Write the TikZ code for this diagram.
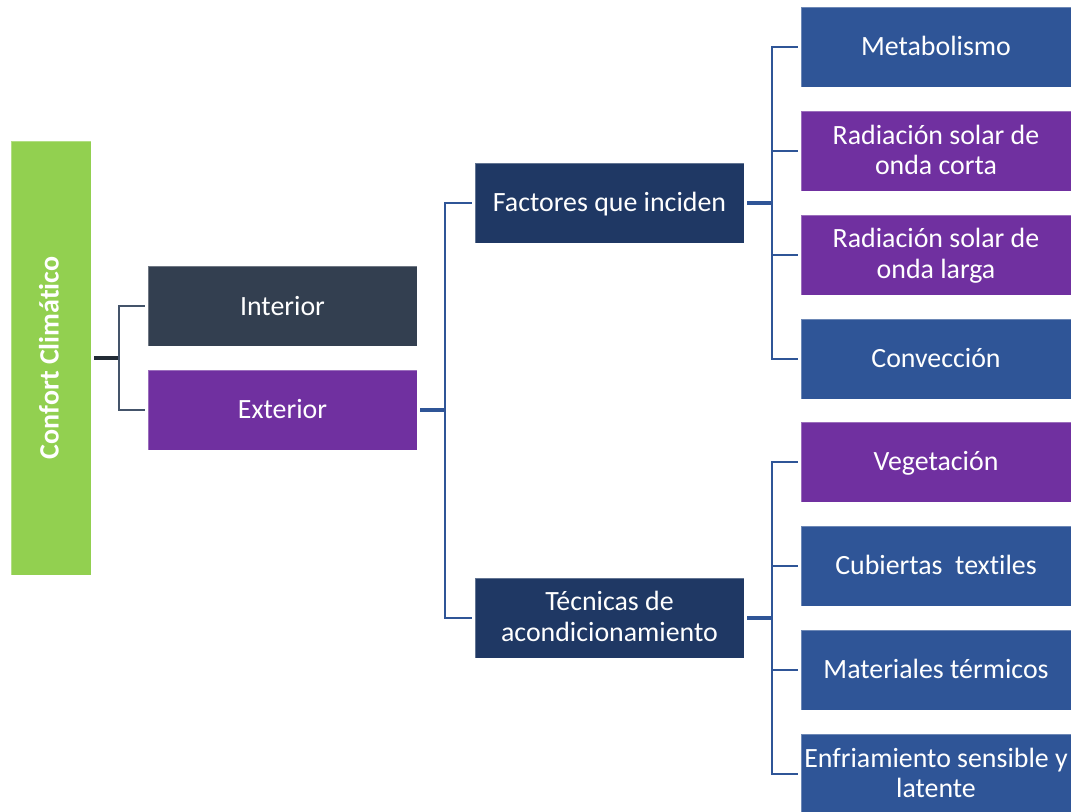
\documentclass[tikz,border=0pt]{standalone}
\usepackage{fontspec}
\setmainfont{Carlito}[Ligatures=NoCommon]
\definecolor{cgreen}{HTML}{92D050}
\definecolor{cslate}{HTML}{333F50}
\definecolor{cpurple}{HTML}{7030A0}
\definecolor{cnavy}{HTML}{1F3864}
\definecolor{cblue}{HTML}{2F5597}
\definecolor{cline}{HTML}{44546A}
\definecolor{clinedark}{HTML}{222B35}
\newcommand\lift[2]{\raisebox{#1}[\height][\depth]{#2}}
\tikzset{
  x=0.75pt,y=-0.75pt,
  box/.style={minimum width=202.5pt,minimum height=60pt,inner sep=0pt,outer sep=2.25pt,text=white,align=center,font=\fontsize{20.9}{23.2}\selectfont,draw=white,draw opacity=.3,line width=.4pt},
  midbox/.style={box,minimum width=201.75pt},
  leaf/.style={box,fill=cblue},
  leafp/.style={box,fill=cpurple},
  blueline/.style={draw=cblue,line width=2.1pt},
  slateline/.style={draw=cline,line width=2.1pt},
  bluestub/.style={draw=cblue,line width=2.5pt},
  darkstub/.style={draw=clinedark,line width=2.5pt},
}
\begin{document}
\begin{tikzpicture}
\useasboundingbox (0,0) rectangle (1073,812);
\node[box,fill=cgreen,minimum width=60pt,minimum height=325.5pt,font=\fontsize{21}{25}\selectfont\bfseries] (conf) at (51,358) {\rotatebox{90}{\lift{1.5pt}{Confort Climático}}};
\node[midbox,fill=cslate] (int) at (282.5,306) {Interior};
\node[midbox,fill=cpurple] (ext) at (282.5,410) {\lift{.75pt}{Exterior}};
\node[midbox,fill=cnavy] (fac) at (609.5,203) {\lift{-.75pt}{Factores que inciden}};
\node[midbox,fill=cnavy] (tec) at (609.5,618) {\lift{1.5pt}{Técnicas de}\\\lift{1.5pt}{acondicionamiento}};
\node[leaf] (met) at (936,47) {\lift{.75pt}{Metabolismo}};
\node[leafp] (rc) at (936,151) {\lift{.75pt}{Radiación solar de}\\\lift{1.5pt}{onda corta}};
\node[leafp] (rl) at (936,255) {\lift{-.75pt}{Radiación solar de}\\\lift{-.75pt}{onda larga}};
\node[leaf] (con) at (936,359) {\lift{.75pt}{Convección}};
\node[leafp] (veg) at (936,462) {\lift{-.75pt}{Vegetación}};
\node[leaf] (cub) at (936,566) {\lift{.75pt}{Cubiertas~ textiles}};
\node[leaf] (mat) at (936,670) {\lift{.75pt}{Materiales térmicos}};
\node[leaf] (enf) at (936,774) {\lift{.75pt}{Enfriamiento sensible y}\\\lift{1.5pt}{latente}};
\draw[darkstub] (conf.east) -- ++(25,0) coordinate (j0);
\draw[slateline] (j0) |- (int.west);
\draw[slateline] (j0) |- (ext.west);
\draw[bluestub] (ext.east) -- ++(25,0) coordinate (j1);
\draw[blueline] (j1) |- (fac.west);
\draw[blueline] (j1) |- (tec.west);
\draw[bluestub] (fac.east) -- ++(25,0) coordinate (j2);
\draw[blueline] (j2) |- (met.west);
\draw[blueline] (j2) |- (rc.west);
\draw[blueline] (j2) |- (rl.west);
\draw[blueline] (j2) |- (con.west);
\draw[bluestub] (tec.east) -- ++(25,0) coordinate (j3);
\draw[blueline] (j3) |- (veg.west);
\draw[blueline] (j3) |- (cub.west);
\draw[blueline] (j3) |- (mat.west);
\draw[blueline] (j3) |- (enf.west);
\end{tikzpicture}
\end{document}
